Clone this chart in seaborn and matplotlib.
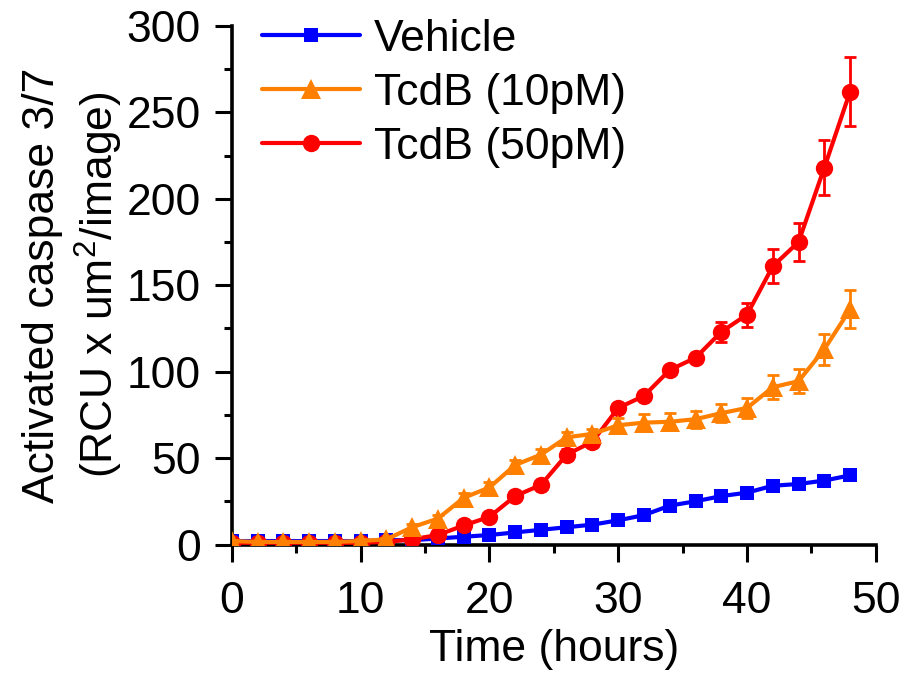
import numpy as np
import pandas as pd
import matplotlib
matplotlib.use("Agg")
import matplotlib.pyplot as plt
import seaborn as sns
from matplotlib.ticker import MultipleLocator

hours = [0, 2, 4, 6, 8, 10, 12, 14, 16, 18, 20, 22, 24, 26, 28, 30, 32, 34, 36, 38, 40, 42, 44, 46, 48]
vehicle = [2, 2, 2, 2, 2, 2, 2.5, 2.5, 3.5, 4.5, 5.5, 7, 8.5, 10, 11.5, 14, 17, 22.5, 25, 28, 30, 34, 35, 37, 40]
vehicle_err = [0.5, 0.5, 0.5, 0.5, 0.5, 0.5, 0.5, 0.5, 0.5, 0.5, 0.5, 0.5, 0.8, 0.8, 0.8, 1, 1, 1, 1, 1, 1.2, 1.2, 1.5, 1.5, 1.5]
tcdb10 = [2, 1.5, 1.5, 1.5, 1.5, 2, 3, 10, 15, 27, 33, 46, 52, 62, 64, 69, 70.5, 71, 72.5, 76, 79, 91, 94.5, 113, 136]
tcdb10_err = [0.5, 0.5, 0.5, 0.5, 0.5, 1, 1, 2, 2, 3, 3, 3, 3, 3, 3, 4, 5, 5, 5, 5, 6, 7, 7, 9, 11]
tcdb50 = [1, 1, 1, 1, 1, 1, 1.5, 3, 5.5, 11, 16, 28, 34.5, 52, 59.5, 79, 86, 101, 108, 123, 133, 161, 175, 218, 262]
tcdb50_err = [0.5, 0.5, 0.5, 0.5, 0.5, 0.5, 0.5, 1, 1, 1.5, 2, 2, 2, 3, 3, 2, 2, 2, 2, 6, 7, 10, 11, 16, 20]

labels = ["Vehicle", "TcdB (10pM)", "TcdB (50pM)"]
colors = ["#0000FF", "#FF8000", "#FF0000"]
markers = ["s", "^", "o"]
msizes = [10.5, 14, 12.5]
zorders = [3, 5, 4]

sns.set_style("ticks")
plt.rcParams["font.family"] = ["Liberation Sans", "DejaVu Sans"]
plt.rcParams["mathtext.fontset"] = "custom"
plt.rcParams["mathtext.rm"] = "Liberation Sans"
plt.rcParams["mathtext.it"] = "Liberation Sans"
plt.rcParams["text.color"] = "black"
plt.rcParams["axes.labelcolor"] = "black"
plt.rcParams["xtick.color"] = "black"
plt.rcParams["ytick.color"] = "black"

fig = plt.figure(figsize=(9.02, 6.77), dpi=100)
ax = fig.add_axes([0.257, 0.1957, 0.714, 0.766])

series = [(vehicle, vehicle_err), (tcdb10, tcdb10_err), (tcdb50, tcdb50_err)]
for (vals, errs), lab, c, m, ms, z in zip(series, labels, colors, markers, msizes, zorders):
    df = pd.DataFrame({"Time": hours, "Value": vals})
    sns.lineplot(data=df, x="Time", y="Value", ax=ax, color=c, marker=m,
                 markersize=ms, markeredgewidth=0, linewidth=3, zorder=z,
                 label=lab, legend=False)
    ax.errorbar(hours, vals, yerr=errs, fmt="none", ecolor=c, elinewidth=2,
                capsize=4, capthick=2, zorder=z)

lines = [l for l in ax.get_lines() if l.get_label() in labels]
ax.legend(lines, labels, loc="upper left", bbox_to_anchor=(0.02, 1.048),
          frameon=False, fontsize=32, handlelength=2.2, handletextpad=0.3,
          labelspacing=0.29, borderaxespad=0)

ax.set_xlim(0, 50)
ax.set_ylim(0, 300)
ax.xaxis.set_major_locator(MultipleLocator(10))
ax.xaxis.set_minor_locator(MultipleLocator(5))
ax.yaxis.set_major_locator(MultipleLocator(50))
ax.yaxis.set_minor_locator(MultipleLocator(25))
for s in ["top", "right"]:
    ax.spines[s].set_visible(False)
for s in ["left", "bottom"]:
    ax.spines[s].set_linewidth(2.6)
    ax.spines[s].set_color("black")
ax.tick_params(which="major", length=12.5, width=2.2, labelsize=32, direction="out")
ax.tick_params(which="minor", length=6, width=2.2, direction="out")
ax.tick_params(axis="x", which="major", pad=14)
ax.tick_params(axis="y", which="major", pad=10)
ax.set_xlabel("Time (hours)", fontsize=32, labelpad=5)
ax.set_ylabel("Activated caspase 3/7\n(RCU x um$^{2}$/image)", fontsize=32, labelpad=1,
              linespacing=1.25)

fig.savefig("out.png", dpi=100)
